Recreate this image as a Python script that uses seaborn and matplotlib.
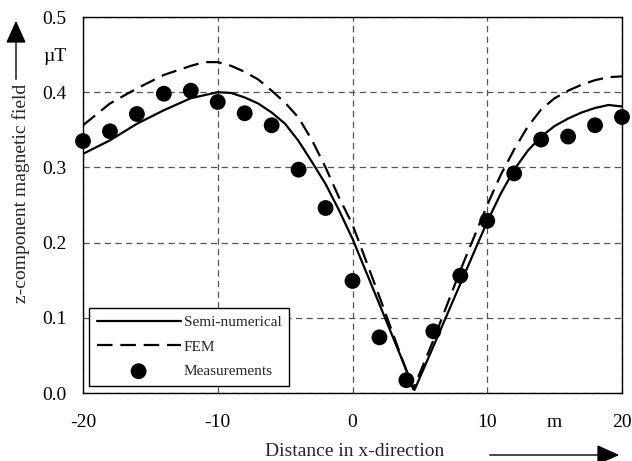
import numpy as np
import pandas as pd
import matplotlib
matplotlib.use('Agg')
import matplotlib.pyplot as plt
import seaborn as sns

# values
semi_x = [-20, -18, -16, -14, -12, -10, -9, -8, -7, -6, -5, -4, -3, -2, -1, 0,
          2, 4.6, 6, 8, 10, 11, 12, 13, 14, 15, 16, 17, 18, 19, 20]
semi_y = [0.318, 0.336, 0.358, 0.376, 0.392, 0.400, 0.399, 0.393, 0.385, 0.373,
          0.358, 0.335, 0.307, 0.278, 0.243, 0.205, 0.118, 0.004, 0.062, 0.145,
          0.228, 0.265, 0.297, 0.322, 0.341, 0.355, 0.365, 0.373, 0.379, 0.383,
          0.381]

fem_x = [-20, -18, -16, -14, -12, -11, -10, -9, -8, -7, -6, -5, -4, -3, -2, -1,
         0, 2, 4.5, 6, 8, 10, 11, 12, 13, 14, 15, 16, 17, 18, 19, 20]
fem_y = [0.356, 0.385, 0.405, 0.423, 0.435, 0.440, 0.440, 0.435, 0.427, 0.417,
         0.402, 0.386, 0.366, 0.336, 0.300, 0.260, 0.224, 0.128, 0.005, 0.070,
         0.163, 0.250, 0.290, 0.324, 0.354, 0.377, 0.392, 0.402, 0.410, 0.416,
         0.420, 0.421]

meas_x = [-20, -18, -16, -14, -12, -10, -8, -6, -4, -2, 0, 2, 4, 6, 8, 10,
          12, 14, 16, 18, 20]
meas_y = [0.335, 0.348, 0.371, 0.398, 0.402, 0.387, 0.372, 0.356, 0.297, 0.246,
          0.149, 0.074, 0.017, 0.082, 0.156, 0.229, 0.292, 0.337, 0.341, 0.356,
          0.367]

x_ticks = [-20, -10, 0, 10, 20]
y_ticks = [0.0, 0.1, 0.2, 0.3, 0.4, 0.5]

sns.set_theme(style='white')
plt.rcParams['font.family'] = ['Liberation Serif', 'DejaVu Serif']

fig = plt.figure(figsize=(6.32, 4.61), dpi=100)
ax = fig.add_axes([83 / 632, 1 - 393 / 461, 539 / 632, 376 / 461])

sns.lineplot(x=semi_x, y=semi_y, color='black', lw=1.6, ax=ax,
             label='Semi-numerical', zorder=3)
sns.lineplot(x=fem_x, y=fem_y, color='black', lw=1.6, ax=ax,
             linestyle=(0, (7, 3.5)), label='FEM', zorder=3)
sns.scatterplot(x=meas_x, y=meas_y, color='black', s=130, edgecolor='none',
                ax=ax, label='Measurements', zorder=4, clip_on=False)

ax.set_xlim(-20, 20)
ax.set_ylim(0, 0.5)
ax.set_xticks(x_ticks, labels=['-20', '-10', '0', '10', '20'])
ax.set_yticks(y_ticks, labels=['0.0', '0.1', '0.2', '0.3', '0.4', '0.5'])
# unit labels sit between the last two tick labels
ax.set_xticks([15], labels=['m'], minor=True)
ax.set_yticks([0.45], labels=['\u00b5T'], minor=True)
ax.tick_params(axis='both', which='both', length=0, labelsize=14,
               labelcolor='black')
ax.tick_params(axis='x', which='both', pad=15)
ax.tick_params(axis='y', which='both', pad=12)

ax.grid(True, which='major', color='#555555', lw=0.9,
        linestyle=(0, (5, 3.5)))
for s in ax.spines.values():
    s.set_color('black')
    s.set_linewidth(1.0)
    s.set_zorder(5)

ax.set_xlabel('')
ax.set_ylabel('')

leg = ax.legend(loc='lower left', bbox_to_anchor=(0.011, 0.019),
                borderaxespad=0, fontsize=11, frameon=True, fancybox=False,
                edgecolor='black', framealpha=1, handlelength=5.5,
                handletextpad=0.2, labelspacing=0.7, borderpad=0.5)
leg.get_frame().set_linewidth(1.0)
leg.set_zorder(6)

# axis titles with arrows, as in the original figure
fig.text(355 / 632, 1 - 451 / 461, 'Distance in x-direction', fontsize=14,
         ha='center', va='center')
fig.text(21 / 632, 1 - 193 / 461, 'z-component magnetic field', fontsize=14,
         ha='center', va='center', rotation=90)
head = '-|>,head_length=1.0,head_width=0.45'
fig.add_artist(matplotlib.patches.FancyArrowPatch(
    (487 / 632, 1 - 455 / 461), (622 / 632, 1 - 455 / 461),
    transform=fig.transFigure, mutation_scale=14,
    arrowstyle=head, color='black', lw=1.0))
fig.add_artist(matplotlib.patches.FancyArrowPatch(
    (16 / 632, 1 - 82 / 461), (16 / 632, 1 - 18 / 461),
    transform=fig.transFigure, mutation_scale=14,
    arrowstyle=head, color='black', lw=1.0))

fig.savefig('out.png', dpi=100)
